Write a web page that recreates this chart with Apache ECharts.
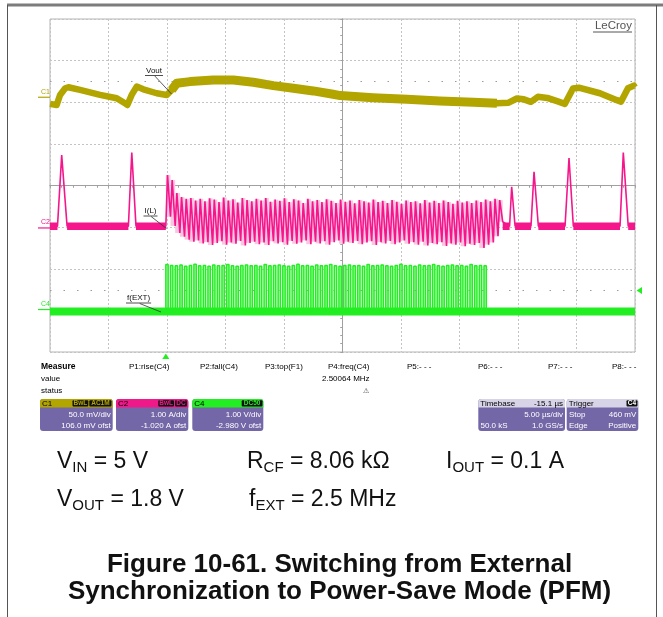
<!DOCTYPE html>
<html><head><meta charset="utf-8">
<script src="https://cdn.jsdelivr.net/npm/echarts@6/dist/echarts.min.js"></script>
<style>html,body{margin:0;padding:0;background:#fff}#c{width:663px;height:617px}</style>
</head><body><div id="c"></div>
<script>
// ================= DATA =================
const timebaseUsPerDiv = 5;        // 5.00 us/div
const triggerDelayUs = -15.1;      // Timebase -15.1 us
const fExtMHz = 2.50064;           // P4:freq(C4)
const vinV = 5, voutNomV = 1.8;
const ch1Scale = 50,  ch1Ofst = 106;    // mV/div, mV ofst  (Vout, AC)
const ch2Scale = 1,   ch2Ofst = -1.02;  // A/div, A ofst    (I(L))
const ch4Scale = 1,   ch4Ofst = -2.98;  // V/div, V ofst    (f(EXT))
const triggerLevelV = 0.46;
const refDotLevelDiv = 2.51;

// Vout (mV, AC coupled) vs time from trigger (us)
const voutT  = [-9.9,-9.33,-9.04,-8.6,-8.33,-7.33,-5.62,-4.2,-3.49,-3.29,-2.92,-2.49,-1.92,-0.78,0.08,0.5,0.93,2.07,4.06,5.77,7.48,9.19,10.9,12.6,14.3,14.9,17.7,20.6,23.4,26.3,28.3,29.3,30.0,30.6,31.2,31.8,32.6,33.5,34.1,34.8,35.3,37.1,38.5,38.9,39.5,40.0,40.1];
const voutMv = [-8,-9.3,2.8,10.8,12,8.8,2.8,-1.2,-7.2,-9.3,2.8,12.8,9.6,4.8,2.8,8.8,16.8,18.8,20.8,20.8,18,14,10.8,7.6,3.6,2.0,-0.5,-2.4,-4.4,-6,-7.2,-6.5,-1.5,-2.5,-5.5,0.5,-0.8,-5,-8,10.5,11.5,4.8,-3.2,-5.3,10.8,14,12];

// I(L): PFM pulses (us from trigger, A)
const ilPulseStartT = [-9.26,-3.2,29.38,31.21,34.12,38.82];
const ilPulsePeakT  = [-8.9,-2.91,29.56,31.47,34.46,39.1];
const ilPulseEndT   = [-8.44,-2.55,29.85,31.84,34.83,39.52];
const ilPulsePeakA  = [1.75,1.81,0.99,1.35,1.68,1.81];
const ilIdleA = 0.04;
const ilSwitchStartT = 0;
// forced-PWM cycles: peak and valley of each cycle (A)
const ilPeaksA = [1.27,1.15,0.84,0.74,0.70,0.72,0.66,0.70,0.64,0.71,0.68,0.62,
  0.73,0.66,0.69,0.61,0.72,0.67,0.64,0.70,0.66,0.72,0.63,0.68,
  0.65,0.71,0.62,0.69,0.66,0.60,0.70,0.64,0.67,0.62,0.69,0.65,
  0.60,0.68,0.63,0.66,0.59,0.67,0.64,0.61,0.68,0.62,0.65,0.60,
  0.67,0.63,0.58,0.66,0.62,0.64,0.59,0.67,0.61,0.65,0.60,0.66,
  0.62,0.58,0.65,0.61,0.64,0.60,0.66,0.62,0.68,0.64,0.70,0.67];
const ilValleysA = [0.27,0.05,-0.12,-0.21,-0.28,-0.33,-0.30,-0.37,-0.34,-0.41,-0.36,-0.32,
  -0.40,-0.35,-0.38,-0.31,-0.42,-0.36,-0.33,-0.39,-0.35,-0.41,-0.32,-0.37,
  -0.34,-0.40,-0.31,-0.38,-0.35,-0.30,-0.39,-0.33,-0.37,-0.32,-0.40,-0.34,
  -0.30,-0.38,-0.33,-0.36,-0.31,-0.39,-0.35,-0.32,-0.41,-0.34,-0.37,-0.31,
  -0.39,-0.35,-0.30,-0.38,-0.34,-0.40,-0.33,-0.42,-0.36,-0.39,-0.34,-0.43,
  -0.37,-0.40,-0.35,-0.44,-0.38,-0.41,-0.36,-0.48,-0.40,-0.35,-0.20,0.15];

// f(EXT): high level of each clock cycle (V), low level, stop time
const extHighV = [1.08,1.06,1.05,1.07,1.04,1.06,1.09,1.05,1.06,1.04,1.07,1.05,
  1.06,1.08,1.05,1.04,1.06,1.07,1.05,1.06,1.04,1.08,1.05,1.06,
  1.07,1.05,1.04,1.06,1.09,1.05,1.06,1.04,1.07,1.05,1.06,1.08,
  1.05,1.04,1.06,1.07,1.05,1.06,1.04,1.08,1.05,1.06,1.07,1.05,
  1.04,1.06,1.09,1.05,1.06,1.04,1.07,1.05,1.06,1.08,1.05,1.04,
  1.06,1.07,1.05,1.06,1.04,1.08,1.05,1.06,1.05];
const extLowV = -0.05;
const extStartT = 0, extStopT = 27.45;

// ================= BUILD =================
const FONT = "'Liberation Sans', Arial, sans-serif";
const C1COL = '#b3a500', C2COL = '#f5168c', C4COL = '#22ee22';
const Tper = 1 / fExtMHz;
const duty = voutNomV / vinV;
const xs = t => t + triggerDelayUs;                 // screen time (us, 0 = centre)
const d1 = mv => (mv + ch1Ofst) / ch1Scale;
const d2 = a => (a + ch2Ofst) / ch2Scale;
const d4 = v => (v + ch4Ofst) / ch4Scale;
const tL = -5 * timebaseUsPerDiv - triggerDelayUs, tR = 5 * timebaseUsPerDiv - triggerDelayUs;

const voutData = voutT.map((t, i) => [xs(t), d1(voutMv[i])]);
const nSw = Math.min(ilPeaksA.length, ilValleysA.length);
const swEndT = ilSwitchStartT + nSw * Tper;
const voutRipple = voutData.filter((p, i) => voutT[i] >= ilSwitchStartT + 0.4 && voutT[i] <= swEndT + 0.3);

// I(L) trace
const ilData = [[xs(tL), d2(ilIdleA)]];
const idleSegs = [];
let lastEnd = tL;
function pulse(k) {
  idleSegs.push([lastEnd, ilPulseStartT[k]]);
  ilData.push([xs(ilPulseStartT[k]), d2(ilIdleA)], [xs(ilPulsePeakT[k]), d2(ilPulsePeakA[k])], [xs(ilPulseEndT[k]), d2(ilIdleA)]);
  lastEnd = ilPulseEndT[k];
}
ilPulseStartT.forEach((s, k) => { if (s < ilSwitchStartT) pulse(k); });
idleSegs.push([lastEnd, ilSwitchStartT]);
ilData.push([xs(ilSwitchStartT), d2(ilIdleA)]);
const ilFill = [];
for (let i = 0; i < nSw; i++) {
  ilData.push([xs(ilSwitchStartT + (i + duty) * Tper), d2(ilPeaksA[i])]);
  ilData.push([xs(ilSwitchStartT + (i + 1) * Tper), d2(ilValleysA[i])]);
  ilFill.push([xs(ilSwitchStartT + i * Tper), xs(ilSwitchStartT + (i + 1) * Tper), d2(ilPeaksA[i]), d2(ilValleysA[i])]);
}
lastEnd = swEndT;
ilPulseStartT.forEach((s, k) => { if (s > ilSwitchStartT) pulse(k); });
idleSegs.push([lastEnd, tR]);
ilData.push([xs(tR), d2(ilIdleA)]);
const ilIdleData = [];
idleSegs.forEach(s => { ilIdleData.push([xs(s[0]), d2(ilIdleA)], [xs(s[1]), d2(ilIdleA)], [xs(s[1]), null]); });

// f(EXT) trace
const extData = [[xs(tL), d4(extLowV)]];
const extRects = [];
for (let i = 0; i < extHighV.length; i++) {
  const t0 = extStartT + i * Tper;
  if (t0 >= extStopT) break;
  const t1 = t0 + Tper / 2;
  extData.push([xs(t0), d4(extLowV)], [xs(t0), d4(extHighV[i])], [xs(t1), d4(extHighV[i])], [xs(t1), d4(extLowV)]);
  extRects.push([xs(t0), xs(t1), d4(extHighV[i]), d4(extLowV)]);
}
extData.push([xs(tR), d4(extLowV)]);
const extLowBand = [[xs(tL), d4(extLowV)], [xs(tR), d4(extLowV)]];

function xAx(inside, main) {
  return {type:'value', min:-25, max:25, interval:5, gridIndex:0,
    axisLine:{show:true, onZero:true, lineStyle:{color:'#a0a0a0', width:1}},
    axisTick:{show:true, inside:inside, length:2, lineStyle:{color:'#a0a0a0'}},
    minorTick:{show:true, splitNumber:5, length:2, lineStyle:{color:'#a0a0a0'}},
    axisLabel:{show:false},
    splitLine:{show:main, lineStyle:{color:'#c4c4c4', type:[2,2], width:1}},
    minorSplitLine:{show:false}};
}
function yAx(inside, main) {
  return {type:'value', min:-4, max:4, interval:1, gridIndex:0,
    axisLine:{show:true, onZero:true, lineStyle:{color:'#a0a0a0', width:1}},
    axisTick:{show:true, inside:inside, length:2, lineStyle:{color:'#a0a0a0'}},
    minorTick:{show:true, splitNumber:5, length:2, lineStyle:{color:'#a0a0a0'}},
    axisLabel:{show:false},
    splitLine:{show:main, lineStyle:{color:'#c4c4c4', type:[2,2], width:1}}};
}
function rectItem(fill) {
  return (p, api) => {
    const a = api.coord([api.value(0), api.value(2)]);
    const b = api.coord([api.value(1), api.value(3)]);
    return {type:'rect', shape:{x:a[0], y:a[1], width:b[0]-a[0], height:b[1]-a[1]}, style:{fill:fill}};
  };
}

const option = {
  animation:false,
  backgroundColor:'#ffffff',
  grid:{left:50, top:19, width:585, height:333, show:true, borderColor:'#b4b4b4', borderWidth:1, backgroundColor:'transparent'},
  xAxis:[xAx(false, true), xAx(true, false)],
  yAxis:[yAx(false, true), yAx(true, false)],
  series:[
    {type:'line', name:'Vout', data:voutData, showSymbol:false, symbol:'none', silent:true, z:3,
     lineStyle:{color:C1COL, width:6.5, join:'round'},
     markLine:{silent:true, symbol:['none','none'], label:{show:false},
       lineStyle:{color:'#9a9a9a', type:[1.5,12], width:1},
       data:[{yAxis:refDotLevelDiv}, {yAxis:d4(triggerLevelV)}]}},
    {type:'line', name:'VoutRipple', data:voutRipple, showSymbol:false, symbol:'none', silent:true, z:3,
     lineStyle:{color:C1COL, width:9, join:'round'}},
    {type:'custom', name:'ILfill', data:ilFill, silent:true, z:3, encode:{x:[0,1], y:[2,3]},
     renderItem:rectItem('#fbc6e1')},
    {type:'line', name:'ILidle', data:ilIdleData, showSymbol:false, symbol:'none', silent:true, z:4, connectNulls:false,
     lineStyle:{color:C2COL, width:7.5}},
    {type:'line', name:'IL', data:ilData, showSymbol:false, symbol:'none', silent:true, z:5,
     lineStyle:{color:C2COL, width:1.6}},
    {type:'custom', name:'EXTfill', data:extRects, silent:true, z:4, encode:{x:[0,1], y:[2,3]},
     renderItem:rectItem('#b6f6b6')},
    {type:'line', name:'EXTlow', data:extLowBand, showSymbol:false, symbol:'none', silent:true, z:5,
     lineStyle:{color:C4COL, width:8}},
    {type:'line', name:'EXT', data:extData, showSymbol:false, symbol:'none', silent:true, z:6,
     lineStyle:{color:C4COL, width:1.5}}
  ]
};

const chart = echarts.init(document.getElementById('c'), null, {renderer:'canvas'});
chart.setOption(option);

// ================= DECORATION (graphic) =================
const G = [];
const cv = document.createElement('canvas').getContext('2d');
function mw(t, font) { cv.font = font; return cv.measureText(t).width; }
function txt(x, y, text, o) {
  o = o || {};
  G.push({type:'text', x:x, y:y, z:100, silent:true, style:{text:text, fill:o.color || '#000',
    font:(o.weight || 'normal') + ' ' + (o.size || 8) + 'px ' + FONT,
    textAlign:o.align || 'left', textVerticalAlign:o.v || 'middle'}});
}
function ln(x1, y1, x2, y2, c, w) {
  G.push({type:'line', z:100, silent:true, shape:{x1:x1, y1:y1, x2:x2, y2:y2}, style:{stroke:c, lineWidth:w || 1}});
}
function rc(x, y, w, h, fill, r) {
  G.push({type:'rect', z:90, silent:true, shape:{x:x, y:y, width:w, height:h, r:r || 0}, style:{fill:fill}});
}
function poly(pts, fill) { G.push({type:'polygon', z:100, silent:true, shape:{points:pts}, style:{fill:fill}}); }

// page frame
ln(7, 5, 663, 5, '#7c7c7c', 3);
ln(7.5, 5, 7.5, 617, '#555', 1);
ln(656.5, 5, 656.5, 617, '#555', 1);

// LeCroy logo
txt(632, 26, 'LeCroy', {size:11.5, color:'#555', align:'right'});
ln(593, 32, 632, 32, '#555', 1);

// channel markers
const pz = (t, d) => chart.convertToPixel({gridIndex:0}, [t, d]);
[[d1(0), 'C1', C1COL], [d2(0), 'C2', C2COL], [d4(0), 'C4', C4COL]].forEach(m => {
  const y = pz(0, m[0])[1];
  txt(41, y - 5.5, m[1], {size:7, color:m[2]});
  ln(38, y, 50, y, m[2], 1.2);
});
// trigger markers
const trgX = pz(xs(0), 0)[0];
poly([[trgX - 3.5, 359], [trgX + 3.5, 359], [trgX, 353.5]], C4COL);
const trgY = pz(0, d4(triggerLevelV))[1];
poly([[636.5, trgY], [642, trgY - 3.5], [642, trgY + 3.5]], C4COL);

// trace labels
function tag(x, y, s, x2, y2) {
  const w = mw(s, '8px ' + FONT);
  txt(x, y, s, {size:8, color:'#111'});
  ln(x - 1, y + 5, x + w + 1, y + 5, '#222', 0.8);
  ln(x + w * 0.55, y + 5.5, x2, y2, '#333', 0.8);
}
tag(146, 70.5, 'Vout', 171.5, 94);
tag(144.5, 211, 'I(L)', 166.5, 228.5);
tag(127, 298, 'f(EXT)', 161, 312);

// measure table
txt(41, 367, 'Measure', {size:8.5, weight:'bold'});
txt(41, 379, 'value', {size:8});
txt(41, 390.5, 'status', {size:8});
[['P1:rise(C4)', 129], ['P2:fall(C4)', 200], ['P3:top(F1)', 265], ['P4:freq(C4)', 328],
 ['P5:- - -', 407], ['P6:- - -', 478], ['P7:- - -', 548], ['P8:- - -', 612]].forEach(p => txt(p[1], 367, p[0], {size:8}));
txt(322, 379, '2.50064 MHz', {size:8});
txt(366, 391.5, '\u26A0', {size:7, color:'#333', align:'center'});

// channel boxes
const BODY = '#7467a7';
function box(x, w, hdr, name, tags, l1, l2, nameCol) {
  rc(x, 399, w, 32, BODY, 3);
  rc(x, 399, w, 8.5, hdr, [3, 3, 0, 0]);
  txt(x + 2, 403.3, name, {size:8, color:nameCol || '#000'});
  tags.forEach(t => {
    rc(t[1], 400.3, t[2] - t[1], 6.2, '#111', 1);
    txt((t[1] + t[2]) / 2, 403.5, t[0], {size:6.5, weight:'bold', color:t[3] || hdr, align:'center'});
  });
  if (l1) txt(x + w - 2, 415, l1, {size:8, color:'#fff', align:'right'});
  if (l2) txt(x + w - 2, 425.5, l2, {size:8, color:'#fff', align:'right'});
}
box(40, 72.7, C1COL, 'C1', [['BwL', 72.5, 88.3], ['AC1M', 89.3, 111.5]], '50.0 mV/div', '106.0 mV ofst');
box(116, 72.3, '#f0198a', 'C2', [['BwL', 158.3, 174], ['DC', 175, 187]], '1.00 A/div', '-1.020 A ofst');
box(192.3, 71, '#22ee22', 'C4', [['DC50', 241.7, 262.5]], '1.00 V/div', '-2.980 V ofst');
// timebase
box(478.3, 86.7, '#d8d4e8', 'Timebase', [], '5.00 \u00B5s/div', '1.0 GS/s');
txt(563, 403.3, '-15.1 \u00B5s', {size:8, align:'right'});
txt(480.5, 425.5, '50.0 kS', {size:8, color:'#fff'});
// trigger
box(566.7, 71.6, '#d8d4e8', 'Trigger', [['C4', 626.5, 637.5, '#fff']], '460 mV', 'Positive');
txt(569, 415, 'Stop', {size:8, color:'#fff'});
txt(569, 425.5, 'Edge', {size:8, color:'#fff'});

// conditions text with subscripts
function subLabel(x, yMid, main, sub, rest) {
  const f1 = '23px ' + FONT, f2 = '15px ' + FONT;
  txt(x, yMid, main, {size:23, color:'#111'}); x += mw(main, f1);
  txt(x, yMid + 6.5, sub, {size:15, color:'#111'}); x += mw(sub, f2);
  txt(x, yMid, rest, {size:23, color:'#111'});
}
subLabel(57, 461.5, 'V', 'IN', ' = 5 V');
subLabel(247, 461.5, 'R', 'CF', ' = 8.06 k\u03A9');
subLabel(446, 461.5, 'I', 'OUT', ' = 0.1 A');
subLabel(57, 499.5, 'V', 'OUT', ' = 1.8 V');
subLabel(249, 499.5, 'f', 'EXT', ' = 2.5 MHz');

txt(339.5, 565, 'Figure 10-61. Switching from External', {size:26, weight:'bold', color:'#111', align:'center'});
txt(339.5, 592, 'Synchronization to Power-Save Mode (PFM)', {size:26, weight:'bold', color:'#111', align:'center'});

chart.setOption({graphic:{elements:G}});
</script>
</body></html>
